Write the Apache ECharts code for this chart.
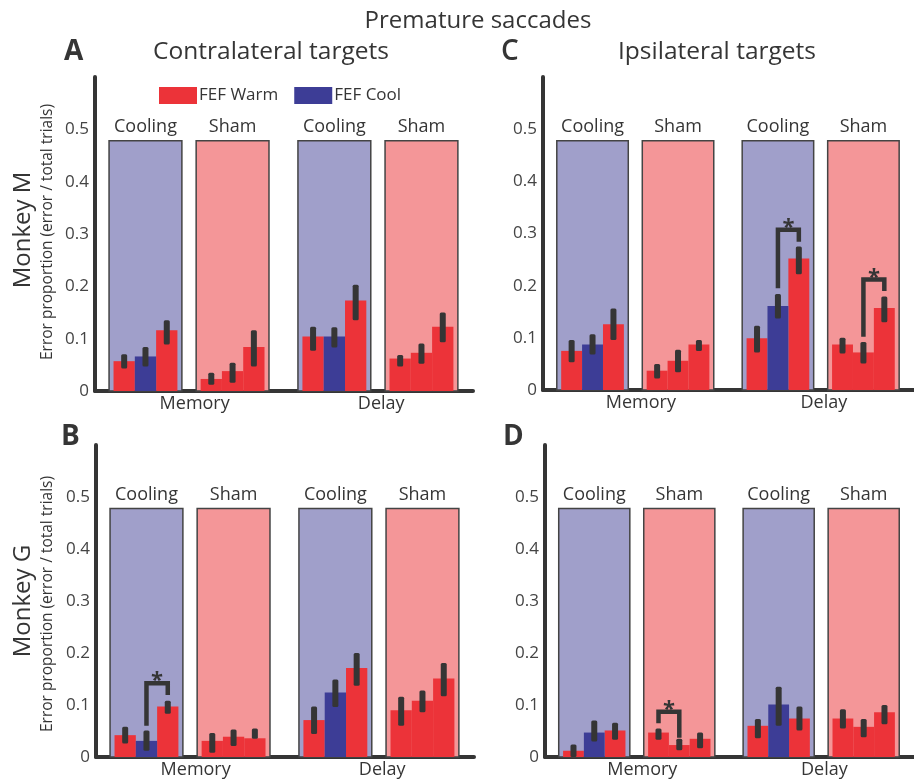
<!DOCTYPE html>
<html>
<head>
<meta charset="utf-8">
<script src="https://cdn.jsdelivr.net/npm/echarts@6/dist/echarts.min.js"></script>
<style>
  html, body { margin: 0; padding: 0; background: #fff; }
  #chart { width: 914px; height: 784px; }
</style>
</head>
<body>
<div id="chart"></div>
<script>
// categories
const groups = ['Cooling', 'Sham', 'Cooling', 'Sham']
const tasks = ['Memory', 'Delay']
const conditions = ['FEF Warm', 'FEF Cool']
// which of the 12 bars (4 groups x 3) were recorded with FEF cooled
const coolBar = [0, 1, 0, 0, 0, 0, 0, 1, 0, 0, 0, 0]
const boxTop = 0.478

// A: Monkey M, contralateral
const meanA = [0.057, 0.066, 0.116, 0.023, 0.038, 0.084, 0.104, 0.104, 0.173, 0.062, 0.073, 0.123]
const loA   = [0.043, 0.047, 0.089, 0.012, 0.016, 0.047, 0.077, 0.083, 0.135, 0.047, 0.052, 0.093]
const hiA   = [0.070, 0.084, 0.135, 0.035, 0.054, 0.116, 0.123, 0.122, 0.203, 0.069, 0.091, 0.150]
const sigA  = []

// C: Monkey M, ipsilateral
const meanC = [0.075, 0.087, 0.126, 0.037, 0.056, 0.087, 0.099, 0.161, 0.252, 0.087, 0.072, 0.157]
const loC   = [0.053, 0.068, 0.096, 0.022, 0.034, 0.075, 0.072, 0.137, 0.222, 0.070, 0.051, 0.130]
const hiC   = [0.096, 0.107, 0.156, 0.050, 0.077, 0.096, 0.123, 0.184, 0.275, 0.100, 0.092, 0.179]
// [bar from, bar to, bracket top, left leg end, right leg end]
const sigC  = [[7, 8, 0.307, 0.195, 0.284], [10, 11, 0.212, 0.102, 0.190]]

// B: Monkey G, contralateral
const meanB = [0.042, 0.031, 0.097, 0.031, 0.039, 0.036, 0.071, 0.124, 0.171, 0.090, 0.108, 0.151]
const loB   = [0.026, 0.012, 0.083, 0.008, 0.021, 0.035, 0.044, 0.096, 0.137, 0.060, 0.086, 0.117]
const hiB   = [0.058, 0.051, 0.108, 0.046, 0.053, 0.055, 0.097, 0.149, 0.200, 0.116, 0.128, 0.181]
const sigB  = [[1, 2, 0.142, 0.060, 0.119]]

// D: Monkey G, ipsilateral
const meanD = [0.012, 0.047, 0.051, 0.047, 0.023, 0.035, 0.060, 0.101, 0.074, 0.074, 0.058, 0.086]
const loD   = [0.000, 0.030, 0.033, 0.033, 0.013, 0.017, 0.036, 0.060, 0.051, 0.055, 0.038, 0.063]
const hiD   = [0.024, 0.070, 0.066, 0.055, 0.035, 0.047, 0.073, 0.135, 0.097, 0.092, 0.073, 0.100]
const sigD  = [[3, 4, 0.087, 0.065, 0.037]]

const yTicks = ['0', '0.1', '0.2', '0.3', '0.4', '0.5']

// layout (x in bar-width units)
const groupX = [2.37, 6.46, 11.24, 15.33]
const taskX = [4.68, 13.44]
const BOX_HALF = 1.71
const X_MAX = 17.75
const FONT = '"Open Sans", "Noto Sans", sans-serif'
const WARM = '#ec3339'
const COOL = '#3d3d96'
const INK = '#353535'

const barX = k => groupX[Math.floor(k / 3)] + (k % 3) - 1

const panels = [
  { grid: { left: 95, top: 77, width: 378, height: 314 }, mean: meanA, lo: loA, hi: hiA, sig: sigA },
  { grid: { left: 543, top: 77, width: 378, height: 313 }, mean: meanC, lo: loC, hi: hiC, sig: sigC },
  { grid: { left: 96, top: 445, width: 378, height: 312 }, mean: meanB, lo: loB, hi: hiB, sig: sigB },
  { grid: { left: 545, top: 445, width: 378, height: 312 }, mean: meanD, lo: loD, hi: hiD, sig: sigD },
]

function renderBox(params, api) {
  const c = api.value(0)
  const g = api.value(1)
  const tl = api.coord([c - BOX_HALF, boxTop])
  const br = api.coord([c + BOX_HALF, 0])
  return {
    type: 'group',
    children: [
      { type: 'rect', shape: { x: tl[0], y: tl[1], width: br[0] - tl[0], height: br[1] - tl[1] },
        style: { fill: groups[g] === 'Cooling' ? '#a09fca' : '#f49698', stroke: '#444', lineWidth: 1.5 } },
      { type: 'text', x: (tl[0] + br[0]) / 2, y: tl[1] - 14,
        style: { text: groups[g], fill: INK, font: '18px ' + FONT, align: 'center', verticalAlign: 'middle' } },
    ],
  }
}

function renderBar(params, api) {
  const x = api.value(0)
  const a = api.coord([x - 0.5, api.value(1)])
  const b = api.coord([x + 0.5, 0])
  return { type: 'rect', shape: { x: a[0], y: a[1], width: b[0] - a[0], height: b[1] - a[1] }, style: api.style() }
}

function renderErr(params, api) {
  const x = api.value(0)
  const a = api.coord([x, api.value(2)])
  const b = api.coord([x, api.value(1)])
  return { type: 'rect', shape: { x: a[0] - 3, y: a[1], width: 6, height: b[1] - a[1], r: 1.5 }, style: { fill: INK } }
}

function renderSig(params, api) {
  const x1 = api.value(0), x2 = api.value(1), top = api.value(2)
  const p1 = api.coord([x1, api.value(3)])
  const p2 = api.coord([x1, top])
  const p3 = api.coord([x2, top])
  const p4 = api.coord([x2, api.value(4)])
  return {
    type: 'group',
    children: [
      { type: 'polyline', shape: { points: [p1, p2, p3, p4] }, style: { stroke: INK, lineWidth: 4.5, fill: null, lineJoin: 'miter' } },
      { type: 'text', x: (p2[0] + p3[0]) / 2, y: p2[1] - 2,
        style: { text: '*', fill: INK, font: 'bold 22px ' + FONT, align: 'center', verticalAlign: 'middle' } },
    ],
  }
}

function renderTask(params, api) {
  const p = api.coord([api.value(0), 0])
  return { type: 'text', x: p[0], y: p[1] + 13,
    style: { text: tasks[params.dataIndex], fill: INK, font: '18px ' + FONT, align: 'center', verticalAlign: 'middle' } }
}

const grid = [], xAxis = [], yAxis = [], series = []
panels.forEach((p, i) => {
  grid.push(p.grid)
  xAxis.push({ type: 'value', gridIndex: i, min: 0, max: X_MAX,
    axisLine: { show: true, onZero: false, lineStyle: { color: INK, width: 4 } },
    axisTick: { show: false }, axisLabel: { show: false }, splitLine: { show: false } })
  yAxis.push({ type: 'value', gridIndex: i, min: 0, max: 0.6, interval: 0.1,
    axisLine: { show: true, lineStyle: { color: INK, width: 4 } },
    axisTick: { show: false }, splitLine: { show: false },
    axisLabel: { fontSize: 17, color: '#444', fontFamily: FONT, margin: 6,
      formatter: v => yTicks[Math.round(v * 10)] || '' } })

  const common = { type: 'custom', xAxisIndex: i, yAxisIndex: i, clip: false, silent: true }
  series.push({ ...common, name: 'box' + i, z: 1, renderItem: renderBox,
    data: groups.map((g, gi) => [groupX[gi], gi]) })
  conditions.forEach((cond, ci) => {
    series.push({ ...common, name: cond, z: 2, renderItem: renderBar,
      itemStyle: { color: ci ? COOL : WARM },
      encode: { x: 0, y: 1 },
      data: p.mean.map((v, k) => (coolBar[k] === ci ? [barX(k), v] : null)).filter(Boolean) })
  })
  series.push({ ...common, name: 'err' + i, z: 3, renderItem: renderErr,
    data: p.mean.map((v, k) => [barX(k), p.lo[k], p.hi[k]]) })
  series.push({ ...common, name: 'sig' + i, z: 4, renderItem: renderSig,
    data: p.sig.map(s => [barX(s[0]), barX(s[1]), s[2], s[3], s[4]]) })
  series.push({ ...common, name: 'task' + i, z: 4, renderItem: renderTask,
    data: taskX.map(x => [x, 0]) })
})

const chart = echarts.init(document.getElementById('chart'))
chart.setOption({
  animation: false,
  textStyle: { fontFamily: FONT },
  title: [
    { text: 'Premature saccades', left: 473, top: 4, textAlign: 'center', textStyle: { fontSize: 24, fontWeight: 'normal', color: INK } },
    { text: 'A', left: 59, top: 33, textStyle: { fontSize: 28, fontWeight: 'bold', color: INK } },
    { text: 'Contralateral targets', left: 266, top: 35, textAlign: 'center', textStyle: { fontSize: 24.5, fontWeight: 'normal', color: INK } },
    { text: 'C', left: 496, top: 33, textStyle: { fontSize: 28, fontWeight: 600, color: INK } },
    { text: 'Ipsilateral targets', left: 712, top: 35, textAlign: 'center', textStyle: { fontSize: 24.5, fontWeight: 'normal', color: INK } },
    { text: 'B', left: 56, top: 418, textStyle: { fontSize: 28, fontWeight: 'bold', color: INK } },
    { text: 'D', left: 498, top: 418, textStyle: { fontSize: 28, fontWeight: 'bold', color: INK } },
  ],
  legend: {
    data: conditions, left: 154, top: 82, itemWidth: 38, itemHeight: 17, itemGap: 16,
    icon: 'rect', selectedMode: false,
    textStyle: { fontSize: 17, color: INK, fontFamily: FONT, padding: [0, 0, 0, -3] },
  },
  graphic: [
    { type: 'text', x: 23, y: 230, rotation: Math.PI / 2, style: { text: 'Monkey M', fill: INK, font: '24px ' + FONT, align: 'center', verticalAlign: 'middle' } },
    { type: 'text', x: 48, y: 232, rotation: Math.PI / 2, style: { text: 'Error proportion (error / total trials)', fill: INK, font: '15.5px ' + FONT, align: 'center', verticalAlign: 'middle' } },
    { type: 'text', x: 23, y: 601, rotation: Math.PI / 2, style: { text: 'Monkey G', fill: INK, font: '24px ' + FONT, align: 'center', verticalAlign: 'middle' } },
    { type: 'text', x: 48, y: 604, rotation: Math.PI / 2, style: { text: 'Error proportion (error / total trials)', fill: INK, font: '15.5px ' + FONT, align: 'center', verticalAlign: 'middle' } },
  ],
  grid, xAxis, yAxis, series,
})
</script>
</body>
</html>
